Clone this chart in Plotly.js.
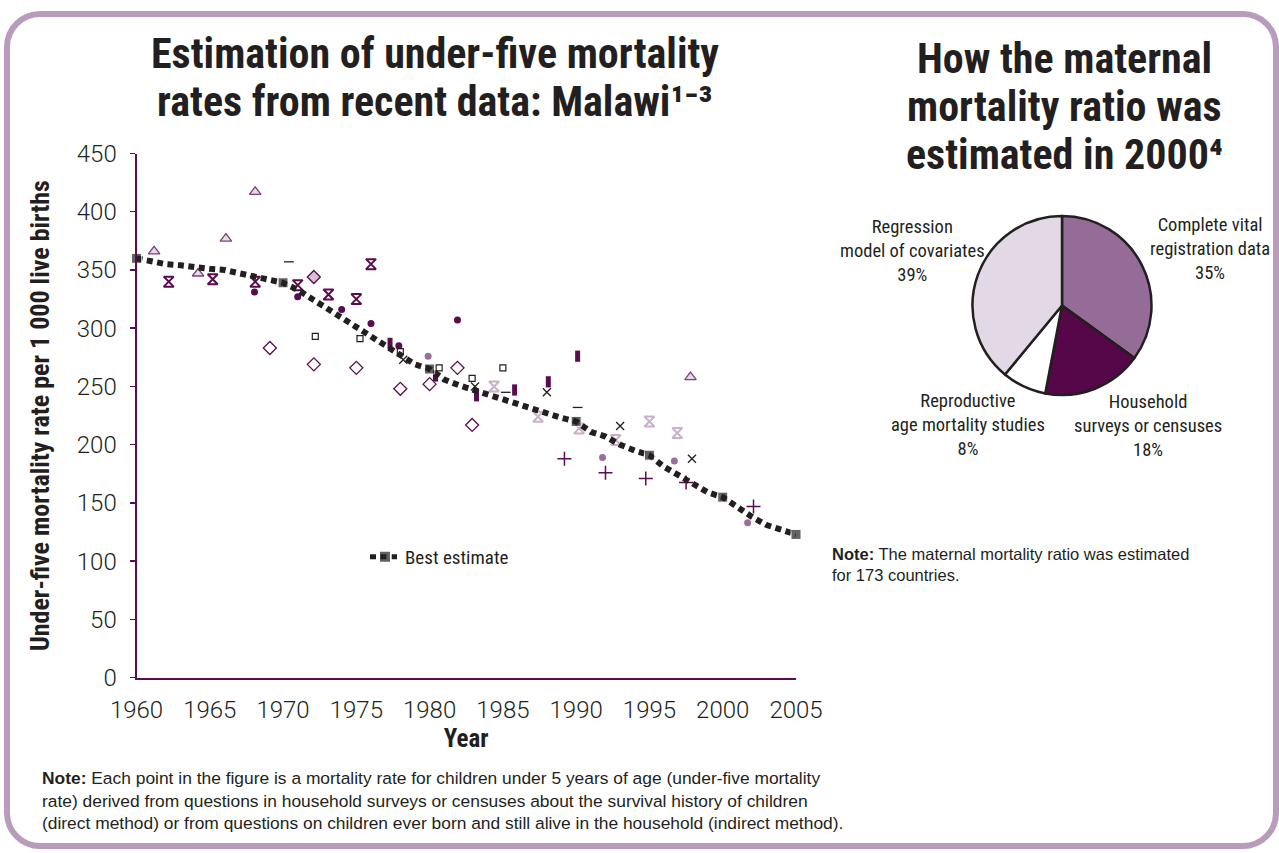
<!DOCTYPE html>
<html>
<head>
<meta charset="utf-8">
<script src="https://cdn.plot.ly/plotly-3.0.1.min.js"></script>
<style>
  html, body { margin: 0; padding: 0; background: #ffffff; }
  #wrap { position: relative; width: 1279px; height: 853px; overflow: hidden; background: #ffffff; }
  #frame { position: absolute; left: 4px; top: 11px; width: 1275px; height: 838px; box-sizing: border-box;
           border: 6px solid #b99bbe; border-radius: 36px; }
  #chart { position: absolute; left: 0; top: 0; width: 1279px; height: 853px; }
</style>
</head>
<body>
<div id="wrap">
  <div id="frame"></div>
  <div id="chart"></div>
</div>
<script>
// ---------- Data: best estimate of under-five mortality (Malawi) ----------
const beYears = [1960,1961,1962,1963,1964,1965,1966,1967,1968,1969,1970,1971,1972,1973,1974,1975,1976,1977,1978,1979,
                 1980,1981,1982,1983,1984,1985,1986,1987,1988,1989,1990,1991,1992,1993,1994,1995,1996,1997,1998,1999,
                 2000,2001,2002,2003,2004,2005];
const beVals  = [360,357,355,354,352,351,350,347,345,342,339,333,325,318,310,302,294,286,277,269,
                 265,256,251,247,242,239,234,230,227,223,220,211,207,200,195,191,181,174,166,159,
                 155,146,138,131,127,123];
const keyYears = [1960,1970,1980,1990,1995,2000,2005];

// ---------- Data: survey / census point estimates ----------
const triYears = [1961.2,1964.2,1966.1,1968.1,1997.8];
const triVals  = [366,347,377,417,258];

const hgDarkYears = [1962.2,1965.2,1968.1,1971.0,1973.1,1975.0,1976.0];
const hgDarkVals  = [340,342,340,337,329,325,355];

const hgLightYears = [1984.4,1987.4,1990.2,1992.7,1995.0,1996.9];
const hgLightVals  = [250,224,214,204,220,210];

const xYears = [1978.2,1983.1,1988.0,1993.0,1997.9];
const xVals  = [273,250,245,216,188];

const circDarkYears = [1968.05,1971.0,1974.0,1976.0,1977.9,1981.9];
const circDarkVals  = [331,327,316,304,285,307];

const circMauveYears = [1979.9,1991.8,1996.7,2001.7];
const circMauveVals  = [276,189,186,133];

const diaYears = [1969.1,1972.1,1975.0,1978.0,1980.0,1981.9,1982.9];
const diaVals  = [283,269,266,248,252,266,217];

const diaFillYears = [1972.1];
const diaFillVals  = [344];

const sqOpenYears = [1972.2,1975.25,1978.0,1980.65,1982.9,1985.0];
const sqOpenVals  = [293,291,280,266,257,266];

const barYears = [1977.3,1980.4,1983.2,1985.8,1988.1,1990.1];
const barVals  = [287,259,242,247,254,276];

const dashYears = [1970.4,1985.2,1990.1];
const dashVals  = [357,245,232];

const plusYears = [1989.2,1992.0,1994.75,1997.5,2002.1];
const plusVals  = [188,176,171,167.5,147];

const xTicks = [1960,1965,1970,1975,1980,1985,1990,1995,2000,2005];
const yTicks = [0,50,100,150,200,250,300,350,400,450];

// ---------- Data: maternal mortality ratio estimation methods (2000) ----------
const pieLabels = ['Complete vital registration data','Household surveys or censuses','Reproductive age mortality studies','Regression model of covariates'];
const pieLabelLines = [['Complete vital','registration data'],['Household','surveys or censuses'],['Reproductive','age mortality studies'],['Regression','model of covariates']];
const pieValues = [35,18,8,39];

// ---------- Text ----------
const leftTitleLines = ['Estimation of under-five mortality', 'rates from recent data: Malawi¹⁻³'];
const rightTitleLines = ['How the maternal', 'mortality ratio was', 'estimated in 2000⁴'];

// ---------- Styles ----------
const DARK = '#5a0c50', MAUVE = '#9a6f9c', LAV = '#c9b1cc', INK = '#231f20';
const COND = '"Roboto Condensed", "DejaVu Sans Condensed", sans-serif';
const REG = 'Roboto, "Liberation Sans", Arial, sans-serif';
const SANS = '"Liberation Sans", Arial, sans-serif';

function pts(x, y, symbol, size, color, lineColor, lineWidth) {
  return {type:'scatter', mode:'markers', x:x, y:y, showlegend:false, hoverinfo:'skip', cliponaxis:false,
          marker:{symbol:symbol, size:size, color:color, line:{color:lineColor, width:lineWidth}}};
}

const traces = [
  pts(triYears, triVals, 'triangle-up', 10, '#e6d9e8', '#7b4179', 1.3),
  pts(hgDarkYears, hgDarkVals, 'hourglass-open', 10, DARK, DARK, 2),
  pts(hgLightYears, hgLightVals, 'hourglass-open', 10, LAV, LAV, 2),
  pts(xYears, xVals, 'x-thin-open', 8, INK, INK, 1.3),
  pts(circDarkYears, circDarkVals, 'circle', 7, DARK, DARK, 0),
  pts(circMauveYears, circMauveVals, 'circle', 7, MAUVE, MAUVE, 0),
  pts(diaYears, diaVals, 'diamond-open', 10, DARK, DARK, 1.3),
  pts(diaFillYears, diaFillVals, 'diamond', 10, '#d5c2d8', DARK, 1.3),
  pts(sqOpenYears, sqOpenVals, 'square-open', 6, INK, INK, 1.2),
  pts(barYears, barVals, 'line-ns-open', 8, DARK, DARK, 5),
  pts(dashYears, dashVals, 'line-ew-open', 7, INK, INK, 1.3),
  pts(plusYears, plusVals, 'cross-thin-open', 10, DARK, DARK, 1.5),
  {type:'scatter', mode:'lines+markers', name:'Best estimate', x:beYears, y:beVals, hoverinfo:'skip', cliponaxis:false,
   line:{color:INK, width:6, dash:'6px,4.5px'},
   marker:{symbol:'square', color:INK, size:beYears.map(function(y){return keyYears.indexOf(y) >= 0 ? 10 : 0;})}},
  {type:'pie', values:pieValues, labels:pieLabels, sort:false, direction:'clockwise', rotation:0,
   marker:{colors:['#956b97','#55074a','#ffffff','#e3d8e5'], line:{color:INK, width:2.5}},
   textinfo:'none', hoverinfo:'skip', showlegend:false,
   domain:{x:[(1062-89.5)/1279,(1062+89.5)/1279], y:[(853-395)/853,(853-216)/853]}}
];

const annotations = [];
function addText(text, px, py, font, opts) {
  annotations.push(Object.assign({xref:'paper', yref:'paper', x:px/1279, y:1-py/853, xanchor:'center', yanchor:'middle',
    showarrow:false, align:'center', text:text, font:font}, opts || {}));
}
const titleFont = {family:COND, size:42, color:INK, weight:'bold'};
leftTitleLines.forEach(function(t, i){ addText(t, 435, 53 + i*48, titleFont); });
rightTitleLines.forEach(function(t, i){ addText(t, 1064, 58 + i*48, titleFont); });

// pie labels
const pieLabelPos = [[1210,249],[1148,426],[968,425],[912,251]];
for (let i = 0; i < pieLabels.length; i++) {
  addText(pieLabelLines[i].join('<br>') + '<br>' + pieValues[i] + '%', pieLabelPos[i][0], pieLabelPos[i][1],
          {family:COND, size:18.5, color:INK});
}
// notes
addText('<b>Note:</b> The maternal mortality ratio was estimated<br>for 173 countries.', 830, 564,
        {family:SANS, size:16.5, color:INK}, {xanchor:'left', align:'left'});
addText('<b>Note:</b> Each point in the figure is a mortality rate for children under 5 years of age (under-five mortality<br>rate) derived from questions in household surveys or censuses about the survival history of children<br>(direct method) or from questions on children ever born and still alive in the household (indirect method).',
        40, 800, {family:SANS, size:17.4, color:INK}, {xanchor:'left', align:'left'});

const layout = {
  width:1279, height:853, margin:{l:0, r:0, t:0, b:0},
  paper_bgcolor:'rgba(0,0,0,0)', plot_bgcolor:'rgba(0,0,0,0)',
  xaxis:{domain:[136.5/1279, 796/1279], range:[1960,2005], tickvals:xTicks, ticktext:xTicks.map(String),
         showline:true, linecolor:DARK, linewidth:2, ticks:'', showgrid:false, zeroline:false, ticklabelstandoff:9,
         tickfont:{family:REG, size:24, color:INK, weight:300},
         title:{text:'Year', font:{family:COND, size:25, color:INK, weight:'bold'}, standoff:7}},
  yaxis:{domain:[(853-677.7)/853, (853-153.5)/853], range:[0,450], tickvals:yTicks, ticktext:yTicks.map(String),
         showline:true, linecolor:DARK, linewidth:2, ticks:'outside', ticklen:5, tickwidth:1.5, tickcolor:DARK,
         ticklabelstandoff:8,
         showgrid:false, zeroline:false, tickfont:{family:REG, size:24, color:INK, weight:300},
         title:{text:'Under-five mortality rate per 1 000 live births', font:{family:COND, size:26, color:INK, weight:'bold'}, standoff:20}},
  showlegend:true,
  legend:{x:365/1279, y:1-557/853, xanchor:'left', yanchor:'middle', bgcolor:'rgba(0,0,0,0)',
          font:{family:COND, size:19, color:INK}, itemsizing:'constant'},
  annotations:annotations
};

Plotly.newPlot('chart', traces, layout, {staticPlot:true, displayModeBar:false});
</script>
</body>
</html>
